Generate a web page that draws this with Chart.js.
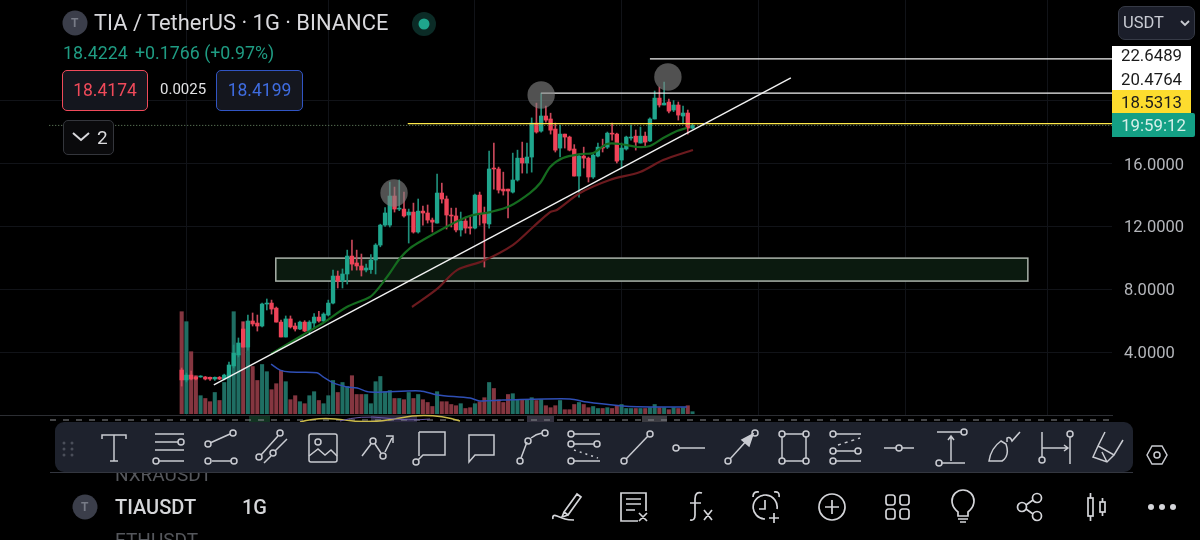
<!DOCTYPE html>
<html>
<head>
<meta charset="utf-8">
<title>TIA / TetherUS</title>
<script src="https://cdn.jsdelivr.net/npm/chart.js@4"></script>
<style>
  html, body { margin: 0; background: #000; }
  #wrap { position: relative; width: 1200px; height: 540px; overflow: hidden; font-family: Roboto, sans-serif; background: #000; }
  canvas { position: absolute; left: 0; top: 0; }
  svg { position: absolute; left: 0; top: 0; }
  .t { position: absolute; white-space: nowrap; line-height: 1; }
  .box { position: absolute; box-sizing: border-box; border-radius: 5px; background: #14161e; text-align: center; }
  .tag { position: absolute; left: 1112px; width: 79px; text-align: center; font-size: 16.8px; color: #1b1b1b; }
</style>
</head>
<body>
<div id="wrap">
  <canvas id="chart" width="1200" height="540"></canvas>

  <svg width="1200" height="540" fill="none" stroke="#c9cbd1" stroke-width="1.5">
    <!-- strip under the volume pane -->
    <g stroke="none">
      <rect x="249" y="416" width="21" height="6" fill="#123322"/>
      <rect x="371" y="416" width="46" height="6" fill="#2b2740"/>
      <rect x="527" y="416" width="27" height="6" fill="#33313f"/>
      <rect x="642" y="416" width="25" height="6" fill="#3c3c42"/>
    </g>
    <line x1="50" y1="420" x2="1115" y2="420" stroke="#8a8c90" stroke-width="1" stroke-dasharray="6 7"/>
    <path d="M300 422 Q320 416 345 420 T400 418 T460 421" stroke="#c9b94a" stroke-width="1.5"/>
    <path d="M340 421 Q360 415 385 418 T430 419" stroke="#6a5aa8" stroke-width="1"/>

    <!-- drawing toolbar -->
    <rect x="55" y="422" width="1078" height="50" rx="9" fill="#1e222d" stroke="none"/>
    <line x1="50" y1="472.5" x2="1133" y2="472.5" stroke="#33363f" stroke-width="1"/>
    <g fill="#4a4e59" stroke="none">
      <circle cx="64" cy="443" r="1.5"/><circle cx="72" cy="443" r="1.5"/>
      <circle cx="64" cy="449" r="1.5"/><circle cx="72" cy="449" r="1.5"/>
      <circle cx="64" cy="455" r="1.5"/><circle cx="72" cy="455" r="1.5"/>
    </g>
    <g transform="translate(114,448)"><path d="M-12 -9V-13H12V-9M0 -13V13M-4 13H4"/></g>
    <g transform="translate(169,448)"><path d="M-14 -14H15M-14 -6H9M-14 2H15M-10 13H15"/><circle cx="12" cy="-6" r="3"/><circle cx="-13" cy="13" r="3"/></g>
    <g transform="translate(221,448)"><path d="M-11 -5L9 -14M-9 13H10"/><circle cx="-13" cy="-4" r="3"/><circle cx="12" cy="-15" r="3"/><circle cx="-13" cy="13" r="3"/><circle cx="13" cy="13" r="3"/></g>
    <g transform="translate(272,448)"><path d="M-11 7L6 -12M-8 15L-1 8M3 3L15 -9"/><circle cx="-13" cy="9" r="3"/><circle cx="8" cy="-15" r="3"/><circle cx="1" cy="5" r="3"/></g>
    <g transform="translate(323,448)"><rect x="-14" y="-14" width="28" height="28" rx="2"/><circle cx="-5" cy="-6" r="3"/><path d="M-14 8L-5 1L2 7L8 2L14 8"/></g>
    <g transform="translate(377,448)"><path d="M-15 8L-6 -4M-2 -4L4 5M8 4L15 -10M9 -12H16V-5"/><circle cx="-4" cy="-7" r="3"/><circle cx="6" cy="8" r="3"/></g>
    <g transform="translate(429,448)"><path d="M-10 -16H16V7H-6L-11 12M-10 -16V8"/><circle cx="-13" cy="14" r="3"/></g>
    <g transform="translate(481,448)"><path d="M-12 -13H13V7H-6L-12 14Z"/></g>
    <g transform="translate(533,448)"><path d="M-12 10L-6 -6M-2 -10Q3 -14 9 -15"/><circle cx="-13" cy="13" r="3"/><circle cx="-5" cy="-7" r="3"/><circle cx="12" cy="-15" r="3"/></g>
    <g transform="translate(584,448)"><path d="M-10 -14H16M-10 -4H10M-10 13H16"/><path d="M-10 2L14 10" stroke-dasharray="2 4"/><circle cx="-13" cy="-14" r="3"/><circle cx="-13" cy="-4" r="3"/><circle cx="13" cy="-4" r="3"/><circle cx="-13" cy="13" r="3"/></g>
    <g transform="translate(637,448)"><path d="M-11 11L11 -12"/><circle cx="-13" cy="13" r="3"/><circle cx="13" cy="-14" r="3"/></g>
    <g transform="translate(690,448)"><path d="M-11 0H15"/><circle cx="-14" cy="0" r="3"/></g>
    <g transform="translate(741,448)"><path d="M-11 11L8 -10"/><path d="M12 -14L8 -2L1 -8Z" fill="#c9cbd1"/><circle cx="-13" cy="13" r="3"/><circle cx="14" cy="-15" r="3"/></g>
    <g transform="translate(794,448)"><path d="M-10 -14H10M-10 13H10M-12 -11V10M12 -11V10"/><circle cx="-12" cy="-14" r="3"/><circle cx="12" cy="-14" r="3"/><circle cx="-12" cy="13" r="3"/><circle cx="12" cy="13" r="3"/></g>
    <g transform="translate(846,448)"><path d="M-11 -14H15M-11 3H9M-11 13H15"/><path d="M-8 -3L14 -10" stroke-dasharray="3 4"/><circle cx="-13" cy="-14" r="3"/><circle cx="-13" cy="3" r="3"/><circle cx="12" cy="3" r="3"/><circle cx="-13" cy="13" r="3"/></g>
    <g transform="translate(899,448)"><path d="M-15 0H-3M3 0H15"/><circle cx="0" cy="0" r="3"/></g>
    <g transform="translate(951,448)"><path d="M-14 -16H11M-10 15H14M0 13V-11M-3 -8L0 -12L3 -8"/><circle cx="13" cy="-16" r="3"/><circle cx="-12" cy="15" r="3"/></g>
    <g transform="translate(1004,448)"><path d="M-15 13H-2Q6 8 2 -4L-3 -7Q-13 0 -15 13ZM3 -6L3 -10Q6 -12 8 -7L16 -16"/></g>
    <g transform="translate(1056,448)"><path d="M-14 -16V9M14 -11V16M-14 0H12M8 -3L12 0L8 3"/><circle cx="-14" cy="12" r="3"/><circle cx="14" cy="-14" r="3"/></g>
    <g transform="translate(1107,448)"><path d="M-2 -16L-9 -2L7 7L16 -8M-9 -2L-14 9L0 14L7 7M-5 4L0 14"/></g>
    <g transform="translate(1157,455)"><path d="M-10 0L-5 -9H5L10 0L5 9H-5Z"/><circle r="3"/></g>

    <!-- bottom bar icons -->
    <g transform="translate(567,507)" stroke="#d4d5d9" stroke-width="1.7"><path d="M-3 5L10 -13L14 -10L1 8ZM-3 5L-5 10L1 8M-14 12Q-15 7 -10 9T-2 12T7 13"/></g>
    <g transform="translate(633,507)" stroke="#d4d5d9" stroke-width="1.7"><path d="M5 14H-12V-14H13V4M-7 -8H8M-7 -3H8M-7 3H2M6 6L14 14M14 6L6 14"/></g>
    <g transform="translate(699,507)" stroke="#d4d5d9" stroke-width="1.7"><path d="M3 -14Q-4 -16 -4 -8V8Q-4 14 -9 13M-9 -4H2M5 3L13 13M13 3L5 13"/></g>
    <g transform="translate(766,507)" stroke="#d4d5d9" stroke-width="1.7"><path d="M-1 12A12 12 0 1 1 11 2M-1 -7V2H-7M-13 -10Q-13 -16 -7 -15M8 -15Q14 -16 13 -10M8 6V16M3 11H13"/></g>
    <g transform="translate(832,507)" stroke="#d4d5d9" stroke-width="1.7"><circle r="13"/><path d="M-7 0H7M0 -7V7"/></g>
    <g transform="translate(897,507)" stroke="#d4d5d9" stroke-width="1.7"><rect x="-11" y="-12" width="9" height="10" rx="2.5"/><rect x="3" y="-12" width="9" height="10" rx="2.5"/><rect x="-11" y="2" width="9" height="10" rx="2.5"/><rect x="3" y="2" width="9" height="10" rx="2.5"/></g>
    <g transform="translate(963,507)" stroke="#d4d5d9" stroke-width="1.7"><path d="M-5 9V5Q-11 0 -11 -6A11 11 0 0 1 11 -6Q11 0 5 5V9ZM-5 12H5M-3 15H3"/></g>
    <g transform="translate(1030,507)" stroke="#d4d5d9" stroke-width="1.7"><circle cx="-8" cy="0" r="4.5"/><circle cx="7" cy="-9" r="4.5"/><circle cx="7" cy="9" r="4.5"/><path d="M-4 -2L3 -7M-4 2L3 7"/></g>
    <g transform="translate(1096,507)" stroke="#d4d5d9" stroke-width="1.7"><rect x="-8" y="-9" width="5" height="18"/><path d="M-5.5 -14V-9M-5.5 9V14"/><rect x="4" y="-5" width="5" height="10"/><path d="M6.5 -9V-5M6.5 5V9"/></g>
    <g fill="#d4d5d9" stroke="none"><circle cx="1151" cy="507" r="3"/><circle cx="1162" cy="507" r="3"/><circle cx="1173" cy="507" r="3"/></g>

    <!-- symbol logos, live dot -->
    <circle cx="75" cy="23" r="12.5" fill="#3b3e4a" stroke="none"/>
    <circle cx="85" cy="507" r="12.5" fill="#3b3e4a" stroke="none"/>
    <circle cx="424" cy="24" r="12" fill="#0b2b26" stroke="none"/>
    <circle cx="424" cy="24" r="5.5" fill="#1fa68d" stroke="none"/>
  </svg>

  <div class="t" style="left:71px;top:17px;font-size:12px;color:#777b86;font-weight:700">T</div>
  <div class="t" style="left:81px;top:501px;font-size:12px;color:#777b86;font-weight:700">T</div>
  <div class="t" style="left:94px;top:12px;font-size:21.9px;color:#d9d9dd">TIA / TetherUS · 1G · BINANCE</div>
  <div class="t" style="left:63px;top:44px;font-size:17.8px;color:#1f9c83">18.4224</div>
  <div class="t" style="left:135px;top:44px;font-size:17.8px;color:#1f9c83">+0.1766 (+0.97%)</div>
  <div class="box" style="left:62px;top:70px;width:86px;height:41px;border:1px solid #f04a5a;color:#f04a5a;font-size:17.5px;line-height:39px">18.4174</div>
  <div class="t" style="left:160px;top:82px;font-size:15px;color:#e2e2e4">0.0025</div>
  <div class="box" style="left:216px;top:70px;width:87px;height:41px;border:1px solid #3155c4;color:#3f6ce0;font-size:17.5px;line-height:39px">18.4199</div>
  <div class="box" style="left:63px;top:120px;width:51px;height:35px;background:#0a0a0c;border:1px solid #34363c"></div>
  <div class="t" style="left:97px;top:128px;font-size:19px;color:#dcdcdf">2</div>

  <div class="box" style="left:1118px;top:6px;width:77px;height:34px;background:#1b1e2a;border:1px solid #363a46;border-radius:7px"></div>
  <div class="t" style="left:1123px;top:15px;font-size:16.5px;color:#c9ccd4">USDT</div>

  <div class="tag" style="top:46px;height:44px;background:#fff"></div>
  <div class="tag t" style="top:47px;color:#1b1b1b">22.6489</div>
  <div class="tag t" style="top:71px;color:#1b1b1b">20.4764</div>
  <div class="tag" style="top:90px;height:23px;background:#fddc2e;line-height:24px">18.5313</div>
  <div class="tag" style="top:113px;height:24px;width:83px;background:#14a085;color:#d6efe9;border-radius:0 2px 2px 0;line-height:25px">19:59:12</div>

  <svg width="1200" height="540" fill="none" stroke="#d8d8dc" stroke-width="2">
    <path d="M73 133L81 140L89 133"/>
    <path d="M1181 21L1185 25L1189 21" stroke="#c9cbd1" stroke-width="1.8"/>
  </svg>

  <div style="position:absolute;left:115px;top:473px;height:12px;overflow:hidden;width:120px">
    <div class="t" style="left:0;top:-8px;font-size:19px;color:#55575c">NXRAUSDT</div>
  </div>
  <div class="t" style="left:115px;top:497px;font-size:20px;font-weight:500;color:#d5d6d9">TIAUSDT</div>
  <div class="t" style="left:242px;top:497px;font-size:20px;font-weight:500;color:#d5d6d9">1G</div>
  <div style="position:absolute;left:115px;top:530px;height:10px;overflow:hidden;width:120px">
    <div class="t" style="left:0;top:0;font-size:19px;color:#55575c">ETHUSDT</div>
  </div>
</div>

<script>
// daily candles
const opens = [2.86,2.23,2.54,2.42,2.42,2.42,2.40,2.29,2.40,2.29,2.42,3.12,3.82,5.47,4.32,5.98,5.85,5.66,7.06,7.12,
  6.80,5.91,4.96,6.11,5.66,5.47,5.91,5.34,5.85,6.23,5.98,6.36,7.12,8.84,8.52,8.97,10.11,9.67,9.48,9.22,
  9.25,9.86,10.81,12.08,12.08,13.93,13.10,13.10,12.72,12.91,11.64,12.97,12.85,12.40,12.21,14.12,13.74,12.72,12.66,11.77,
  12.34,11.96,11.89,13.99,12.78,12.15,15.71,15.65,14.37,14.37,14.18,14.95,16.34,16.03,16.41,18.57,18.06,19.02,18.83,18.19,
  16.98,17.87,17.68,16.92,15.20,16.47,16.34,15.14,16.47,17.04,17.04,17.93,17.87,16.22,16.92,17.62,17.74,17.30,17.74,17.43,
  18.83,20.16,19.72,19.91,19.40,19.72,19.02,19.21,18.25];
const highs = [2.99,2.67,2.80,2.48,2.50,2.45,2.42,2.42,2.45,2.60,3.37,4.45,4.90,5.91,6.36,6.49,6.36,7.12,7.38,7.31,
  6.87,6.04,6.30,6.30,5.85,5.98,6.00,6.00,6.45,6.60,6.50,7.31,9.22,9.16,9.29,10.49,11.13,10.49,10.24,9.60,
  10.20,10.90,12.14,13.20,14.82,14.50,14.95,14.18,13.10,13.48,13.74,13.29,13.36,12.53,15.33,14.75,13.93,13.16,13.16,12.91,
  12.59,12.59,14.05,14.18,13.23,16.79,17.30,15.77,15.45,14.37,16.66,16.85,17.36,17.30,18.90,19.84,20.48,19.65,19.20,18.57,
  18.44,17.87,17.74,17.20,16.53,17.04,16.41,16.60,17.30,17.55,18.00,18.57,17.93,17.30,17.74,18.44,18.13,18.32,18.00,18.90,
  20.61,20.86,21.18,20.10,20.00,19.91,19.65,19.40,18.50];
const lows = [1.84,2.10,2.23,2.23,2.40,2.23,2.20,2.20,2.25,2.23,2.35,2.99,3.69,4.32,4.13,5.66,5.34,5.60,6.68,6.42,
  5.91,4.96,4.96,5.53,5.34,5.43,5.30,5.10,5.50,5.90,5.90,6.30,7.06,8.08,8.08,8.33,9.22,9.22,8.84,9.10,
  9.00,8.97,10.70,12.00,11.96,12.91,13.00,12.59,10.94,11.57,11.57,12.08,12.21,11.64,12.21,13.48,11.83,11.96,11.64,11.38,
  11.57,11.51,11.83,12.08,9.41,11.89,14.37,14.12,13.99,12.53,14.12,14.88,15.39,15.39,15.45,17.93,18.00,18.63,17.87,16.73,
  16.41,16.98,16.80,15.20,13.86,15.71,14.82,15.05,16.41,16.73,16.95,17.49,16.03,15.71,16.85,17.49,16.85,17.30,17.10,17.38,
  18.83,19.59,19.72,19.21,19.30,18.76,18.57,17.87,18.20];
const closes = [2.23,2.54,2.29,2.29,2.48,2.29,2.29,2.40,2.29,2.54,3.18,3.94,4.58,4.32,5.98,5.79,5.66,7.06,7.12,6.74,
  5.91,4.96,6.11,5.60,5.47,5.91,5.34,5.91,6.23,5.98,6.42,7.12,8.84,8.52,8.97,10.11,9.60,9.48,9.22,9.35,
  9.86,10.81,12.08,12.85,13.93,13.10,13.16,12.66,12.91,11.64,12.97,12.85,12.40,12.27,14.12,13.74,12.72,12.66,11.77,12.34,
  11.89,11.89,13.99,12.78,12.21,15.65,15.65,14.31,14.25,14.25,14.95,16.34,16.03,16.41,18.57,18.00,19.02,18.76,18.12,16.85,
  17.87,17.68,16.85,15.20,16.47,16.34,15.14,16.53,17.04,16.98,17.93,17.87,16.15,16.98,17.68,17.68,17.36,17.74,17.36,18.83,
  20.16,19.72,19.84,19.33,19.72,19.08,19.21,18.25,18.42];
const volumes = [25.5,23,15.5,9.5,4.5,3.8,3,5.3,3.3,7.8,10.3,25.5,15,23,16.8,11.8,8.3,12.3,10.5,6,
  7.5,10.8,8,3.5,4.5,3,2.5,4.5,5.5,3.3,2.5,4.5,8.3,5.3,7.8,6.8,9.5,4.8,4.8,4.8,
  2.5,8,9.3,5.5,5.8,3.8,3.8,3.5,5.3,3.8,4.8,3.5,2.8,1.8,5.5,3,3,2.3,2,2.5,
  1.3,1.5,2.5,3,4,7.8,6.3,3.5,2.8,4.8,5,3.5,3.5,3.5,4,3.3,3.5,2,1.5,2,
  3.3,1,1,2.3,2.8,2.3,1.5,1.8,1.3,1.3,1.5,1.3,2,2.3,1.3,1.3,1.3,1.3,1.3,1.5,
  2.3,1.5,1.5,1,1.5,1.3,1.5,2,0.5];

// moving averages, read at their bends
const emaFastX = [18.9,25.6,29.9,34.9,39.8,41.3,44,46.2,48.3,51,56.7,60.9,65.2,69.4,73.6,75.8,77.9,80.6,84.2,87,89.9,92.7,96.3,99,101.8,104.7,106.8];
const emaFastY = [3.88,5.09,5.85,6.87,7.51,7.95,9.03,9.99,10.62,11.13,12.09,12.66,12.91,13.30,14.12,14.76,15.78,16.35,16.60,16.67,17.24,17.24,17.05,17.11,17.62,18.07,18.26];
const emaSlowX = [48.7,54,58.2,63.7,70,74.3,77.9,79.3,84.2,90.5,96.9,101.8,108.1];
const emaSlowY = [6.87,8.02,9.22,9.80,10.81,11.96,12.91,13.04,14.12,14.95,15.46,16.22,16.86];
const volMaX = [18.9,20.8,22.9,28.6,29.9,32,34.9,37.1,39.8,50.4,54,61,63,67.9,82.1,85.7,92.7,96.3,106.8];
const volMaY = [12.4,10.9,10.4,10.25,9.2,7.7,6.7,6.4,5.4,5.7,4.7,3.9,3.2,3.4,3.7,2.9,2,1.75,1.7];

// user drawings
const trendX = [6.8,128.8];
const trendY = [1.91,21.44];
const level1 = 22.6489;
const level2 = 20.4764;
const level3 = 18.5313;
const lastPrice = 18.4224;
const level1From = 99;
const level2From = 76;
const level3From = 47.8;
const lastFrom = -28;
const zoneX = [19.9,178.9];
const zoneY = [8.52,9.98];
const peakX = [44.9,76,102.8];
const peakY = [14.12,20.36,21.5];

const yTicks = [4,8,12,16,20];
const monthTicks = [1,31,62,93,122,153,183];
const xMin = -38.41;
const xMax = 196.69;

const GREEN = '#1fa68d';
const RED = '#ef4358';
const pts = (xs, ys) => xs.map((x, i) => ({x: x, y: ys[i]}));
const hline = (from, y) => [{x: from, y: y}, {x: xMax, y: y}];
const up = i => closes[i] >= opens[i];

function lineSet(data, color, width, order, extra) {
    return Object.assign({
        type: 'line',
        data: data,
        borderColor: color,
        borderWidth: width,
        pointRadius: 0,
        tension: 0.3,
        yAxisID: 'y',
        order: order
    }, extra || {});
}

const zonePlugin = {
    id: 'zone',
    beforeDatasetsDraw(chart) {
        const {ctx, scales} = chart;
        const x0 = scales.x.getPixelForValue(zoneX[0]);
        const x1 = scales.x.getPixelForValue(zoneX[1]);
        const y0 = scales.y.getPixelForValue(zoneY[1]);
        const y1 = scales.y.getPixelForValue(zoneY[0]);
        ctx.save();
        ctx.fillStyle = '#0b1a0f';
        ctx.strokeStyle = '#aab2aa';
        ctx.lineWidth = 1.5;
        ctx.fillRect(x0, y0, x1 - x0, y1 - y0);
        ctx.strokeRect(x0, y0, x1 - x0, y1 - y0);
        ctx.restore();
    }
};

new Chart(document.getElementById('chart'), {
    type: 'bar',
    plugins: [zonePlugin],
    data: {
        datasets: [
            {
                data: volumes.map((v, i) => ({x: i, y: v})),
                backgroundColor: volumes.map((v, i) => up(i) ? '#1f6e63' : '#853640'),
                barThickness: 3.4,
                grouped: false,
                yAxisID: 'y1',
                order: 9
            },
            lineSet(pts(volMaX, volMaY), '#2f4fb5', 1.5, 8, {yAxisID: 'y1'}),
            {
                data: lows.map((l, i) => ({x: i, y: [l, highs[i]]})),
                backgroundColor: lows.map((l, i) => up(i) ? '#1f8f7b' : '#c8485a'),
                barThickness: 1,
                grouped: false,
                yAxisID: 'y',
                order: 7
            },
            {
                data: opens.map((o, i) => ({x: i, y: [o, closes[i]]})),
                backgroundColor: opens.map((o, i) => up(i) ? GREEN : RED),
                barThickness: 3.7,
                grouped: false,
                yAxisID: 'y',
                order: 6
            },
            lineSet(pts(emaFastX, emaFastY), '#156b1f', 2.2, 5),
            lineSet(pts(emaSlowX, emaSlowY), '#6b1a1e', 2.2, 5),
            lineSet(hline(lastFrom, lastPrice), '#6f8f6a', 1, 4, {borderDash: [1, 2], tension: 0}),
            lineSet(hline(level3From, level3), '#ffe94a', 1.2, 3, {tension: 0}),
            lineSet(hline(level2From, level2), '#f2f2f2', 1.3, 3, {tension: 0}),
            lineSet(hline(level1From, level1), '#f2f2f2', 1.3, 3, {tension: 0}),
            lineSet(pts(trendX, trendY), '#f2f2f2', 1.4, 2, {tension: 0}),
            lineSet(pts(peakX, peakY), 'transparent', 0, 1, {
                showLine: false,
                pointRadius: 13.7,
                pointBorderWidth: 0,
                pointBackgroundColor: 'rgba(130,130,130,0.62)'
            })
        ]
    },
    options: {
        responsive: false,
        animation: false,
        events: [],
        layout: {autoPadding: false, padding: {bottom: 125}},
        plugins: {legend: {display: false}, tooltip: {enabled: false}},
        scales: {
            x: {
                type: 'linear',
                min: xMin,
                max: xMax,
                offset: false,
                afterBuildTicks: s => { s.ticks = monthTicks.map(v => ({value: v})); },
                afterFit: s => { s.height = 0; },
                ticks: {display: false},
                grid: {color: '#111318', offset: false, drawTicks: false},
                border: {display: true, color: '#2c2e33'}
            },
            y: {
                position: 'right',
                min: 0,
                max: 26.4,
                afterBuildTicks: s => { s.ticks = yTicks.map(v => ({value: v})); },
                afterFit: s => { s.width = 88; s.paddingTop = 0; s.paddingBottom = 0; },
                ticks: {
                    callback: v => v < 20 ? v.toFixed(4) : '',
                    color: '#b4b6bb',
                    padding: 12,
                    labelOffset: 2,
                    font: {family: 'Roboto', size: 16.5}
                },
                grid: {color: '#111318', drawTicks: false},
                border: {display: false}
            },
            y1: {
                display: false,
                min: -0.325,
                max: 103.425
            }
        }
    }
});
</script>
</body>
</html>
